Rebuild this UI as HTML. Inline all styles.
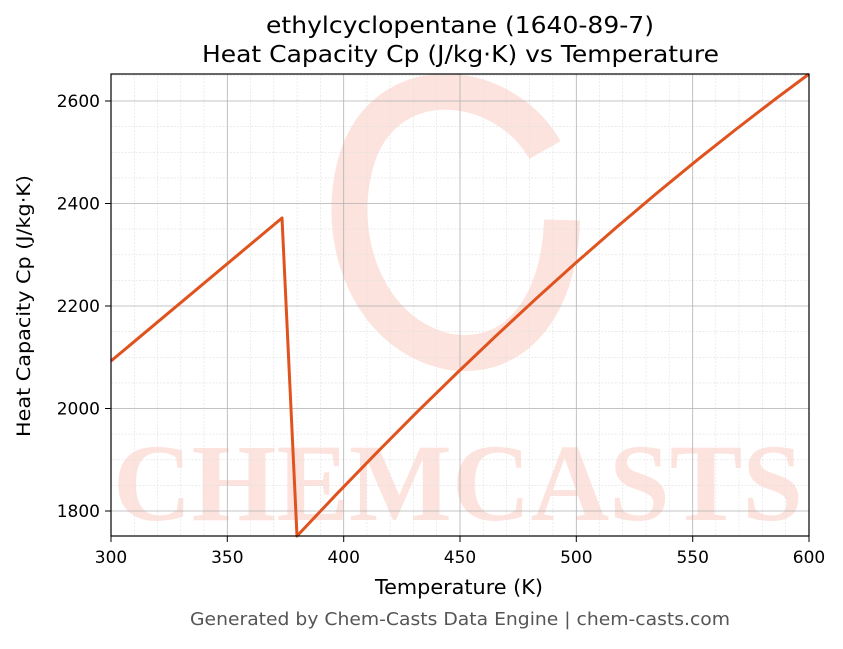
<!DOCTYPE html>
<html><head><meta charset="utf-8"><style>
html,body{margin:0;padding:0;background:#fff;}
</style></head><body>
<svg width="843" height="644" viewBox="0 0 843 644" xmlns="http://www.w3.org/2000/svg" font-family="DejaVu Sans, Liberation Sans, sans-serif">
<rect width="843" height="644" fill="#fff"/>
<g>
<path d="M545,150 C505,80 395,65 360,150 C330,230 365,335 450,352 C520,362 560,300 562,220" fill="none" stroke="#fde3de" stroke-width="36"/>
<text x="458" y="520" text-anchor="middle" font-size="110" font-weight="bold" fill="#fde3de" textLength="690" lengthAdjust="spacingAndGlyphs" font-family="Liberation Serif, serif">CHEMCASTS</text>
</g>
<g stroke="#e0e0e0" stroke-width="0.6" stroke-dasharray="2,1.5">
<line x1="134.3" y1="74" x2="134.3" y2="536"/><line x1="157.5" y1="74" x2="157.5" y2="536"/><line x1="180.8" y1="74" x2="180.8" y2="536"/><line x1="204" y1="74" x2="204" y2="536"/>
<line x1="250.6" y1="74" x2="250.6" y2="536"/><line x1="273.8" y1="74" x2="273.8" y2="536"/><line x1="297.1" y1="74" x2="297.1" y2="536"/><line x1="320.3" y1="74" x2="320.3" y2="536"/>
<line x1="366.9" y1="74" x2="366.9" y2="536"/><line x1="390.1" y1="74" x2="390.1" y2="536"/><line x1="413.4" y1="74" x2="413.4" y2="536"/><line x1="436.6" y1="74" x2="436.6" y2="536"/>
<line x1="483.2" y1="74" x2="483.2" y2="536"/><line x1="506.4" y1="74" x2="506.4" y2="536"/><line x1="529.7" y1="74" x2="529.7" y2="536"/><line x1="552.9" y1="74" x2="552.9" y2="536"/>
<line x1="599.5" y1="74" x2="599.5" y2="536"/><line x1="622.7" y1="74" x2="622.7" y2="536"/><line x1="646" y1="74" x2="646" y2="536"/><line x1="669.2" y1="74" x2="669.2" y2="536"/>
<line x1="715.8" y1="74" x2="715.8" y2="536"/><line x1="739" y1="74" x2="739" y2="536"/><line x1="762.3" y1="74" x2="762.3" y2="536"/><line x1="785.5" y1="74" x2="785.5" y2="536"/>
<line x1="111" y1="485.4" x2="809" y2="485.4"/><line x1="111" y1="459.8" x2="809" y2="459.8"/><line x1="111" y1="434.1" x2="809" y2="434.1"/>
<line x1="111" y1="382.9" x2="809" y2="382.9"/><line x1="111" y1="357.3" x2="809" y2="357.3"/><line x1="111" y1="331.6" x2="809" y2="331.6"/>
<line x1="111" y1="280.4" x2="809" y2="280.4"/><line x1="111" y1="254.8" x2="809" y2="254.8"/><line x1="111" y1="229.1" x2="809" y2="229.1"/>
<line x1="111" y1="177.9" x2="809" y2="177.9"/><line x1="111" y1="152.3" x2="809" y2="152.3"/><line x1="111" y1="126.6" x2="809" y2="126.6"/>
<line x1="111" y1="75.4" x2="809" y2="75.4"/>
</g>
<g stroke="#b0b0b0" stroke-width="0.8">
<line x1="227.3" y1="74" x2="227.3" y2="536"/><line x1="343.7" y1="74" x2="343.7" y2="536"/><line x1="460" y1="74" x2="460" y2="536"/><line x1="576.3" y1="74" x2="576.3" y2="536"/><line x1="692.7" y1="74" x2="692.7" y2="536"/>
<line x1="111" y1="511" x2="809" y2="511"/><line x1="111" y1="408.5" x2="809" y2="408.5"/><line x1="111" y1="306" x2="809" y2="306"/><line x1="111" y1="203.5" x2="809" y2="203.5"/><line x1="111" y1="101" x2="809" y2="101"/>
</g>
<polyline points="111,361 282,218 297,536 337,493.7 377,452.4 417,412.1 457,373 497,334.9 537,297.8 577,261.8 617,226.9 657,193 697,160.2 737,128.5 777,97.8 809,74" fill="none" stroke="#e0531f" stroke-width="3" stroke-linejoin="round"/>
<rect x="111" y="74" width="698" height="462" fill="none" stroke="#000" stroke-width="1.2"/>
<g stroke="#000" stroke-width="1">
<line x1="111" y1="536" x2="111" y2="542"/><line x1="227.3" y1="536" x2="227.3" y2="542"/><line x1="343.7" y1="536" x2="343.7" y2="542"/><line x1="460" y1="536" x2="460" y2="542"/><line x1="576.3" y1="536" x2="576.3" y2="542"/><line x1="692.7" y1="536" x2="692.7" y2="542"/><line x1="809" y1="536" x2="809" y2="542"/>
<line x1="105" y1="511" x2="111" y2="511"/><line x1="105" y1="408.5" x2="111" y2="408.5"/><line x1="105" y1="306" x2="111" y2="306"/><line x1="105" y1="203.5" x2="111" y2="203.5"/><line x1="105" y1="101" x2="111" y2="101"/>
</g>
<g font-size="17" fill="#000">
<text x="111" y="563" text-anchor="middle">300</text><text x="227.3" y="563" text-anchor="middle">350</text><text x="343.7" y="563" text-anchor="middle">400</text><text x="460" y="563" text-anchor="middle">450</text><text x="576.3" y="563" text-anchor="middle">500</text><text x="692.7" y="563" text-anchor="middle">550</text><text x="809" y="563" text-anchor="middle">600</text>
<text x="100" y="517" text-anchor="end">1800</text><text x="100" y="414.5" text-anchor="end">2000</text><text x="100" y="312" text-anchor="end">2200</text><text x="100" y="209.5" text-anchor="end">2400</text><text x="100" y="107" text-anchor="end">2600</text>
</g>
<text x="375" y="594" font-size="20" textLength="168" lengthAdjust="spacingAndGlyphs">Temperature (K)</text>
<text transform="translate(30,437) rotate(-90)" font-size="19" textLength="262" lengthAdjust="spacingAndGlyphs">Heat Capacity Cp (J/kg·K)</text>
<text x="266" y="33" font-size="23" textLength="388" lengthAdjust="spacingAndGlyphs">ethylcyclopentane (1640-89-7)</text>
<text x="202" y="62" font-size="23" textLength="517" lengthAdjust="spacingAndGlyphs">Heat Capacity Cp (J/kg·K) vs Temperature</text>
<text x="190" y="625" font-size="17.5" fill="#555" textLength="540" lengthAdjust="spacingAndGlyphs">Generated by Chem-Casts Data Engine | chem-casts.com</text>
</svg>
</body></html>
